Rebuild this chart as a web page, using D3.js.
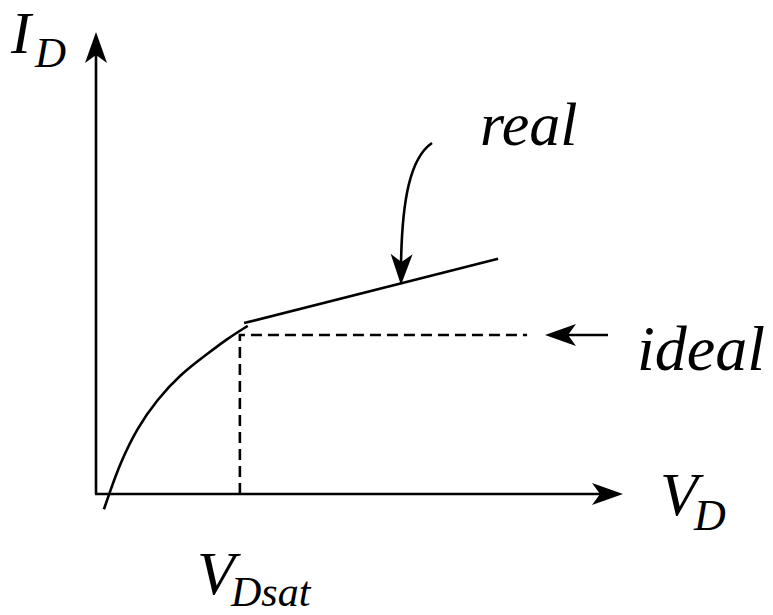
<!DOCTYPE html>
<html>
<head>
<meta charset="utf-8">
<script src="https://cdn.jsdelivr.net/npm/d3@7"></script>
<style>
  html, body { margin: 0; padding: 0; background: #fff; }
</style>
</head>
<body>
<svg id="chart" width="773" height="615"></svg>
<script>
// Saturation curve (linear region bending into saturation), in arbitrary units
const curveVD = [0.15, 0.25, 0.46, 0.78, 1.16, 1.59, 2.11, 2.49, 2.88];
const curveID = [-0.33, 0.0, 0.67, 1.43, 2.04, 2.58, 3.03, 3.36, 3.64];

// Real saturation branch (channel-length modulation slope)
const realVD = [2.81, 7.63];
const realID = [3.70, 5.09];

// Ideal saturation branch (flat) and saturation voltage
const VDsat = 2.73;
const idealID = 3.44;
const idealVDend = 8.18;

// Axis labels
const labelY = { main: "I", sub: "D" };
const labelX = { main: "V", sub: "D" };
const labelSat = { main: "V", sub: "Dsat" };
const tagReal = "real";
const tagIdeal = "ideal";

const FONT = "Liberation Serif";

const svg = d3.select("#chart");
const x = d3.scaleLinear().domain([0, 10]).range([96, 623]);
const y = d3.scaleLinear().domain([0, 10]).range([494, 32]);

const SW = 2.6;

// Notched arrowhead drawn at (tx,ty) pointing along angle a
function arrowHead(tx, ty, a, len = 31, half = 11, notch = 8) {
  const c = Math.cos(a), s = Math.sin(a);
  const pt = (u, v) => [tx + u * c - v * s, ty + u * s + v * c];
  const p = [pt(0, 0), pt(-len, -half), pt(-len + notch, 0), pt(-len, half)];
  svg.append("path")
    .attr("d", "M" + p.map(q => q.join(",")).join("L") + "Z")
    .attr("fill", "#000");
}

// Axes
svg.append("line")
  .attr("x1", x(0)).attr("y1", y(0)).attr("x2", x(0)).attr("y2", y(10) + 20)
  .attr("stroke", "#000").attr("stroke-width", SW);
arrowHead(x(0), y(10), -Math.PI / 2);

svg.append("line")
  .attr("x1", x(0) - 1).attr("y1", y(0)).attr("x2", x(10) - 20).attr("y2", y(0))
  .attr("stroke", "#000").attr("stroke-width", SW);
arrowHead(x(10), y(0), 0);

// Ideal saturation (dashed) and VDsat drop line
svg.append("path")
  .attr("d", d3.line()([[x(VDsat), y(0)], [x(VDsat), y(idealID)], [x(idealVDend), y(idealID)]]))
  .attr("fill", "none").attr("stroke", "#000").attr("stroke-width", SW)
  .attr("stroke-dasharray", "11,6");

// Linear-region curve
const curvePts = curveVD.map((v, i) => [x(v), y(curveID[i])]);
svg.append("path")
  .attr("d", d3.line().curve(d3.curveBasis)(curvePts))
  .attr("fill", "none").attr("stroke", "#000").attr("stroke-width", SW);

// Real saturation line
svg.append("path")
  .attr("d", d3.line()(realVD.map((v, i) => [x(v), y(realID[i])])))
  .attr("fill", "none").attr("stroke", "#000").attr("stroke-width", SW);

// Pointer from "real" label onto the real line
const tip = [401, 285];
const tailR = [432, 143];
svg.append("path")
  .attr("d", `M${tailR[0]},${tailR[1]} C410,158 402,200 ${tip[0]},${tip[1] - 20}`)
  .attr("fill", "none").attr("stroke", "#000").attr("stroke-width", SW);
arrowHead(tip[0], tip[1], Math.atan2(30, -0.6));

// Pointer from "ideal" label onto the dashed line
svg.append("line")
  .attr("x1", 608).attr("y1", y(idealID)).attr("x2", 565).attr("y2", y(idealID))
  .attr("stroke", "#000").attr("stroke-width", SW);
arrowHead(545, y(idealID), Math.PI);

// Labels
function addText(xx, yy, size, str) {
  return svg.append("text")
    .attr("x", xx).attr("y", yy)
    .attr("font-family", FONT).attr("font-style", "italic")
    .attr("font-size", size).attr("fill", "#000")
    .text(str);
}
function subLabel(lbl, xx, yy, dx, dy, big = 62, small = 44) {
  addText(xx, yy, big, lbl.main);
  addText(xx + dx, yy + dy, small, lbl.sub);
}
subLabel(labelY, 11, 53, 24, 14, 60, 43);
subLabel(labelX, 660, 515, 34, 15);
subLabel(labelSat, 197, 594, 34, 12, 62, 42);

addText(480, 145, 62, tagReal);
addText(637, 370, 64, tagIdeal);
</script>
</body>
</html>
